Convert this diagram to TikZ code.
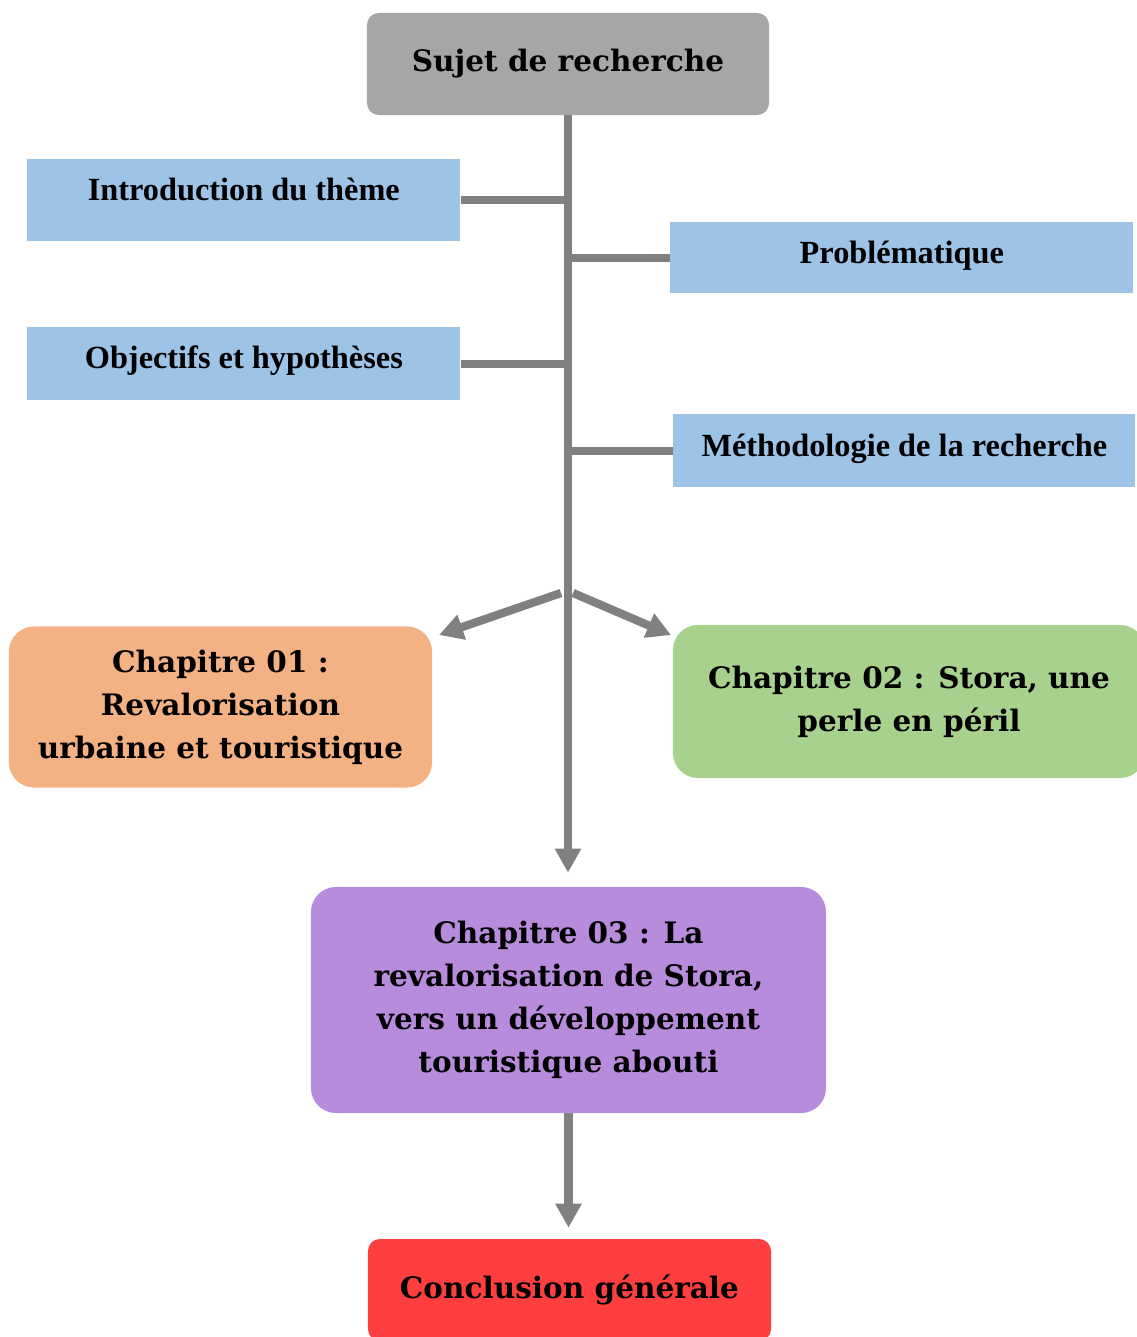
\documentclass[tikz,border=0pt]{standalone}
\usepackage{fontspec}
\setmainfont{DejaVu Serif}
\newfontfamily\timesfont{Liberation Serif}
\usetikzlibrary{arrows.meta}
\definecolor{boxgray}{HTML}{A6A6A6}
\definecolor{partblue}{HTML}{9DC3E6}
\definecolor{chorange}{HTML}{F4B183}
\definecolor{chgreen}{HTML}{A9D18E}
\definecolor{chpurple}{HTML}{B88CDC}
\definecolor{chred}{HTML}{FF3F3F}
\definecolor{linegray}{HTML}{808080}

\begin{document}
\begin{tikzpicture}[x=0.025cm, y=-0.025cm,
  main/.style = {rounded corners=0.3cm, inner sep=0pt, align=center, font=\bfseries\fontsize{21}{30.5}\selectfont},
  part/.style = {fill=partblue, inner sep=0pt, anchor=north west, font=\timesfont\bfseries\fontsize{23}{27}\selectfont},
  link/.style = {draw=linegray, line width=5.9pt},
  arr/.style = {link, -{Triangle[width=0.62cm,length=0.6cm]}}]
\useasboundingbox (0,0) rectangle (1137,1337);
% top and parts
\node[main, fill=boxgray, minimum width=10.05cm, minimum height=2.55cm] (sujet) at (568,64) {Sujet de recherche};
\node[part, minimum width=10.825cm, text height=1.025cm, text depth=1.025cm] (intro) at (27,159) {Introduction du thème};
\node[part, minimum width=11.575cm, text height=1.025cm, text depth=0.75cm] (probl) at (670,222) {Problématique};
\node[part, minimum width=10.825cm, text height=1.025cm, text depth=0.8cm] (obj) at (27,327) {Objectifs et hypothèses};
\node[part, minimum width=11.55cm, text height=1.05cm, text depth=0.775cm] (meth) at (673,414) {Méthodologie de la recherche};
% chapters
\node[main, fill=chorange, rounded corners=0.625cm, minimum width=10.575cm, minimum height=4.025cm] (ch1) at (220.5,707) {Chapitre 01 :\\Revalorisation\\urbaine et touristique};
\node[main, fill=chgreen, rounded corners=0.625cm, minimum width=11.8cm, minimum height=3.825cm] (ch2) at (909,701.5) {Chapitre 02 : Stora, une\\perle en péril};
\node[main, fill=chpurple, rounded corners=0.625cm, minimum width=12.875cm, minimum height=5.65cm] (ch3) at (568.5,1000) {Chapitre 03 : La\\revalorisation de Stora,\\vers un développement\\touristique abouti};
\node[main, fill=chred, minimum width=10.075cm, minimum height=2.55cm] (concl) at (569.5,1290) {Conclusion générale};
% connectors
\coordinate (forkL) at (561,593);
\coordinate (forkR) at (573,593);
\coordinate (tipL) at (439,635);
\coordinate (tipR) at (671,635);
\draw[arr] (forkL) -- (tipL);
\draw[arr] (forkR) -- (tipR);
\draw[arr, shorten >=0.35cm] (sujet.south) -- (sujet.south |- ch3.north);
\draw[link] (intro.east) -- (intro.east -| sujet.south);
\draw[link] (probl.west) -- (probl.west -| sujet.south);
\draw[link] (obj.east) -- (obj.east -| sujet.south);
\draw[link] (meth.west) -- (meth.west -| sujet.south);
\draw[arr, shorten >=0.275cm] (ch3.south) -- (ch3.south |- concl.north);
\end{tikzpicture}
\end{document}
